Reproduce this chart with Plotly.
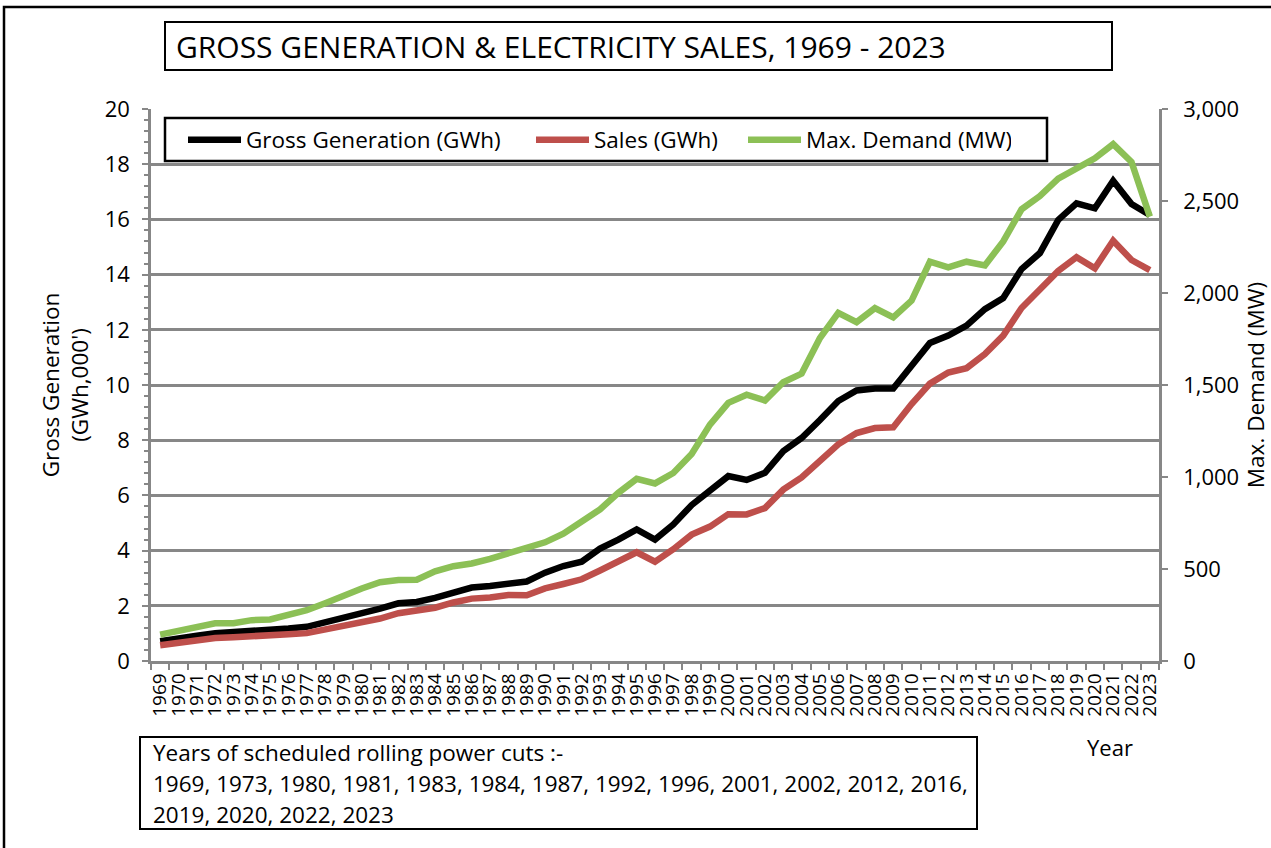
import plotly.graph_objects as go

years = [str(y) for y in range(1969, 2024)]

gross_gen = [0.72, 0.84, 0.92, 1.01, 1.04, 1.08, 1.14, 1.18, 1.24, 1.40,
             1.56, 1.70, 1.90, 2.09, 2.14, 2.29, 2.49, 2.66, 2.72, 2.82,
             2.88, 3.20, 3.44, 3.60, 4.07, 4.40, 4.77, 4.40, 4.95, 5.65,
             6.14, 6.70, 6.56, 6.82, 7.60, 8.08, 8.73, 9.42, 9.80, 9.87,
             9.87, 10.69, 11.52, 11.79, 12.15, 12.75, 13.15, 14.20, 14.78, 15.98,
             16.58, 16.40, 17.40, 16.56, 16.16]

sales = [0.57, 0.67, 0.73, 0.83, 0.86, 0.88, 0.94, 0.97, 1.01, 1.14,
         1.28, 1.41, 1.54, 1.73, 1.84, 1.93, 2.12, 2.26, 2.30, 2.39,
         2.38, 2.63, 2.79, 2.96, 3.28, 3.58, 3.94, 3.60, 4.05, 4.58,
         4.87, 5.32, 5.31, 5.54, 6.21, 6.65, 7.25, 7.85, 8.26, 8.44,
         8.47, 9.31, 10.05, 10.45, 10.61, 11.12, 11.79, 12.79, 13.46, 14.13,
         14.63, 14.23, 15.23, 14.53, 14.16]

max_demand = [143, 164, 188, 205, 205, 222, 226, 249, 276, 314,
              356, 394, 428, 440, 442, 487, 515, 530, 555, 588,
              615, 645, 692, 755, 824, 914, 990, 965, 1022, 1125,
              1285, 1403, 1447, 1416, 1515, 1562, 1755, 1892, 1842, 1918,
              1868, 1959, 2170, 2140, 2170, 2150, 2280, 2455, 2527, 2622,
              2682, 2732, 2809, 2712, 2415]

note_lines = ["Years of scheduled rolling power cuts :-",
              "1969, 1973, 1980, 1981, 1983, 1984, 1987, 1992, 1996, 2001, 2002, 2012, 2016,",
              "2019, 2020, 2022, 2023"]

FONT = "Open Sans"
GRID = "#878787"

# plot area in pixels: x 151..1159, y 109..661
def px(x):
    return (x - 151) / 1008

def py(y):
    return (661 - y) / 552


fig = go.Figure()
fig.add_trace(go.Scatter(x=years, y=gross_gen, name="Gross Generation (GWh)", mode="lines",
                         line=dict(color="#000000", width=6.5), legendwidth=280))
fig.add_trace(go.Scatter(x=years, y=sales, name="Sales (GWh)", mode="lines",
                         line=dict(color="#BE4F4B", width=6.5), legendwidth=144))
fig.add_trace(go.Scatter(x=years, y=max_demand, name="Max. Demand (MW)", mode="lines",
                         line=dict(color="#8CC056", width=6.5), yaxis="y2", legendwidth=200))

shapes = [
    # outer chart border
    dict(type="rect", xref="paper", yref="paper", x0=px(4), x1=px(1300), y0=py(7), y1=py(900),
         line=dict(color="black", width=2.5), layer="below"),
    # title box
    dict(type="rect", xref="paper", yref="paper", x0=px(165), x1=px(1112), y0=py(22), y1=py(70),
         line=dict(color="black", width=2), fillcolor="white"),
    # legend box
    dict(type="rect", xref="paper", yref="paper", x0=px(165), x1=px(1047), y0=py(118), y1=py(161),
         line=dict(color="black", width=2.5), fillcolor="white", layer="below"),
    # note box
    dict(type="rect", xref="paper", yref="paper", x0=px(140), x1=px(977), y0=py(737), y1=py(829),
         line=dict(color="black", width=2), fillcolor="white"),
]

annotations = [
    dict(text="GROSS GENERATION & ELECTRICITY SALES, 1969 - 2023", xref="paper", yref="paper",
         x=px(174), y=py(46), xanchor="left", yanchor="middle", showarrow=False,
         font=dict(family=FONT, size=30, color="black")),
    dict(text="Year", xref="paper", yref="paper", x=px(1110), y=py(747), xanchor="center",
         yanchor="middle", showarrow=False, font=dict(family=FONT, size=22, color="black")),
]
for i, line in enumerate(note_lines):
    annotations.append(dict(text=line, xref="paper", yref="paper", x=px(151), y=py(752 + 31 * i),
                            xanchor="left", yanchor="middle", showarrow=False,
                            font=dict(family=FONT, size=22.5, color="black")))

fig.update_layout(
    width=1271, height=848,
    margin=dict(l=151, r=112, t=109, b=187, pad=0),
    paper_bgcolor="white", plot_bgcolor="white",
    font=dict(family=FONT, size=22, color="black"),
    shapes=shapes,
    annotations=annotations,
    legend=dict(orientation="h", x=px(183), y=py(140), xanchor="left", yanchor="middle",
                bgcolor="rgba(0,0,0,0)", borderwidth=0, itemwidth=53,
                font=dict(family=FONT, size=22.5, color="black")),
    xaxis=dict(type="category", range=[-0.5, 54.5], tickangle=-90, tickmode="array", tickvals=years,
               tickfont=dict(family=FONT, size=19), showline=True, linecolor=GRID, linewidth=2.5,
               ticks="outside", tickson="boundaries", ticklen=6, tickcolor=GRID, tickwidth=2,
               showgrid=False, ticklabelstandoff=2, automargin=False),
    yaxis=dict(range=[0, 20], dtick=2, showgrid=True, gridcolor=GRID, gridwidth=2.5,
               showline=True, linecolor=GRID, linewidth=2.5, zeroline=False,
               ticks="outside", ticklen=6, tickcolor=GRID, tickwidth=2,
               minor=dict(dtick=0.4, ticks="outside", ticklen=4, tickcolor=GRID, tickwidth=2),
               tickfont=dict(family=FONT, size=22), ticklabelstandoff=8, automargin=False,
               title=dict(text="Gross Generation<br>(GWh,000')", standoff=10,
                          font=dict(family=FONT, size=22.5))),
    yaxis2=dict(range=[0, 3000], dtick=500, tickformat=",d", overlaying="y", side="right",
                showgrid=False, showline=True, linecolor=GRID, linewidth=2.5, zeroline=False,
                ticks="outside", ticklen=6, tickcolor=GRID, tickwidth=2, automargin=False,
                tickfont=dict(family=FONT, size=22), ticklabelstandoff=11,
                title=dict(text="Max. Demand (MW)", standoff=24, font=dict(family=FONT, size=22.5))),
)

fig.write_html("out.html", config={"displayModeBar": False},
               post_script="document.body.style.margin='0px';")
